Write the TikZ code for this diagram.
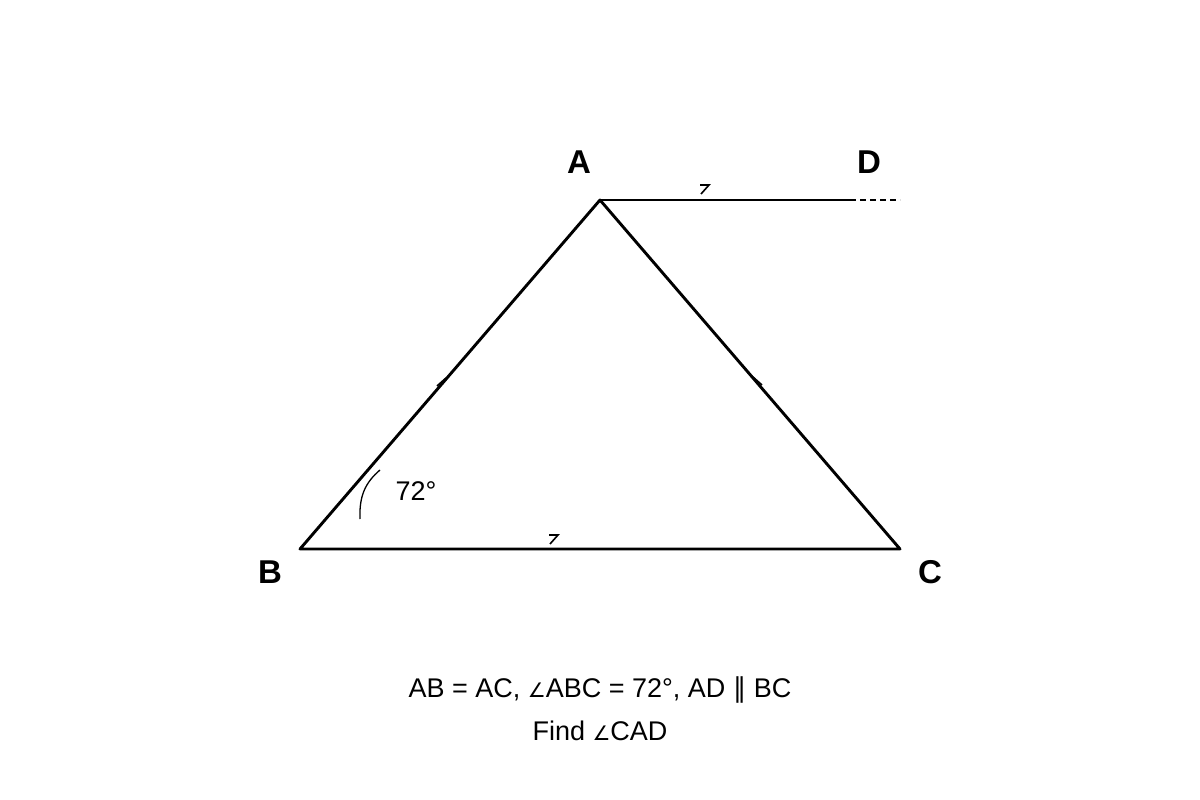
\documentclass[tikz,border=0pt]{standalone}
\usepackage{fontspec}
\setmainfont{Liberation Sans}
\newfontfamily\symfont{DejaVu Sans}
\newcommand{\angsym}{{\symfont\fontsize{20}{24}\selectfont ∠}}
\begin{document}
\begin{tikzpicture}[x=1pt,y=-1pt,
  edge/.style={line width=2.9pt,line cap=round,line join=round},
  tickmark/.style={line width=1.6pt},
  ptlabel/.style={font=\fontsize{33}{36}\selectfont\bfseries,inner sep=0pt},
  txt/.style={font=\fontsize{27}{30}\selectfont,inner sep=0pt}]
\useasboundingbox (0,0) rectangle (1200,800);
\fill[white] (0,0) rectangle (1200,800);
\coordinate (A) at (600,200);
\coordinate (B) at (300,549);
\coordinate (C) at (900,549);
\coordinate (Dd) at (850,200);
\coordinate (De) at (900,200);
\draw[edge] (B) -- (A) -- (C) -- cycle;
\draw[edge,line cap=butt] (A) -- (Dd);
\draw[line width=1.8pt,dash pattern=on 6pt off 4pt] (Dd) -- (De);
% equal ticks
\draw[tickmark] (437,386) -- (446,378);
\draw[tickmark] (753,377) -- (762,385);
% parallel marks
\draw[tickmark] (700,185) -- (709,185) -- (701,194);
\draw[tickmark] (549,535) -- (558,535) -- (550,544);
% angle arc
\draw[line width=1.3pt] (360,519) .. controls (359,495) and (366,482) .. (380,470);
\node[txt] (ang) at (416,491) {72°};
\node[ptlabel] (lA) at (579,162) {A};
\node[ptlabel] (lD) at (869,162) {D};
\node[ptlabel] (lB) at (270,572) {B};
\node[ptlabel] (lC) at (930,572) {C};
\node[txt] (t1) at (600,690) {AB = AC, \angsym ABC = 72°, AD {\symfont ∥} BC};
\node[txt] (t2) at (600,731) {Find \angsym CAD};
\end{tikzpicture}
\end{document}
